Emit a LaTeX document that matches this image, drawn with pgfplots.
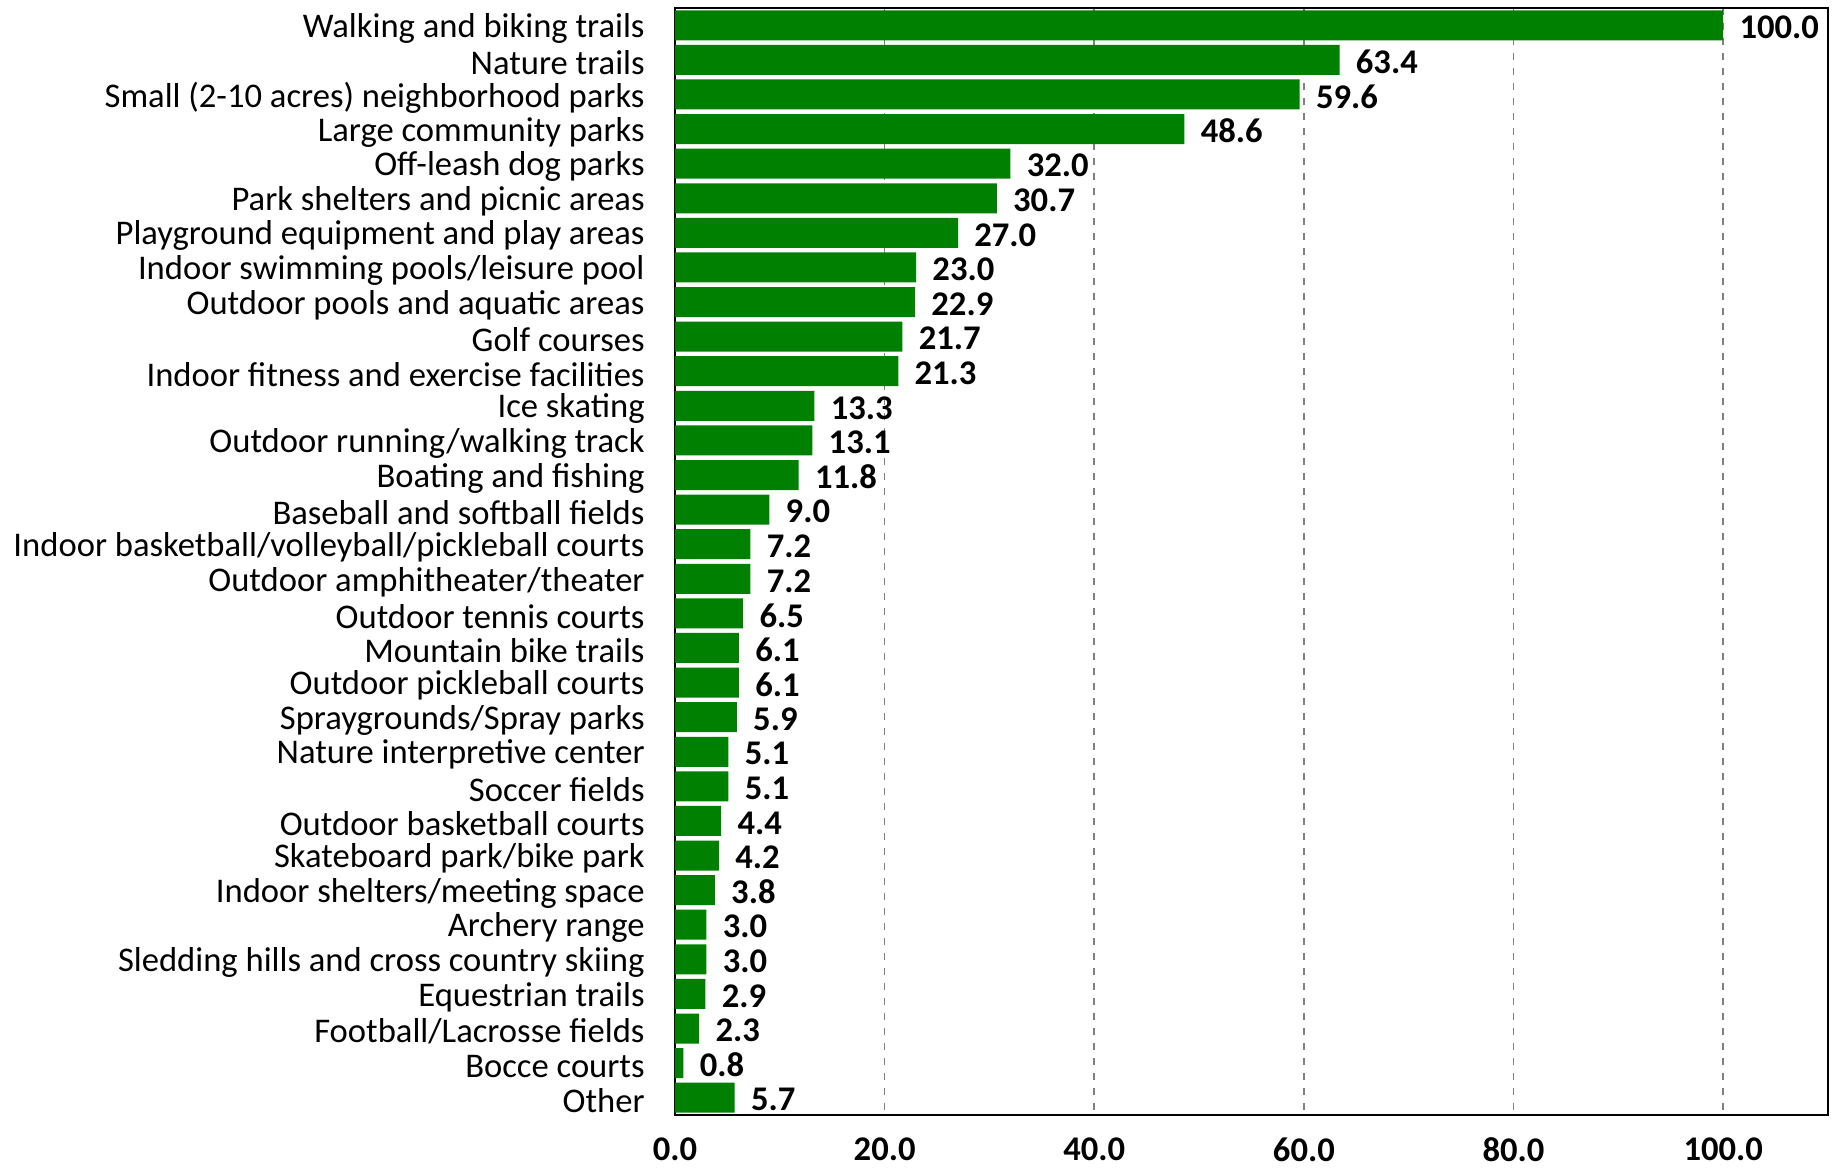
\documentclass[border=0pt]{standalone}
\usepackage{fontspec}
\setmainfont{Carlito}
\usepackage{pgfplots}
\pgfplotsset{compat=1.18}
\definecolor{bargreen}{RGB}{0,128,0}
\definecolor{gridgray}{RGB}{128,128,128}
\newcommand{\lblfont}{\fontsize{17.3}{20}\selectfont}
\begin{document}
\lblfont
\begin{tikzpicture}
\begin{axis}[
    name=ax,
    xbar,
    scale only axis,
    width=576.5pt, height=553.5pt,
    xmin=0, xmax=110,
    ymin=-0.5, ymax=31.5,
    y dir=reverse,
    bar width=15pt,
    axis line style={black, line width=1.3pt},
    xtick={0,20,40,60,80,100},
    ytick=data,
    yticklabels={Walking and biking trails, Nature trails, Small (2-10 acres) neighborhood parks, Large community parks, Off-leash dog parks, Park shelters and picnic areas, Playground equipment and play areas, Indoor swimming pools/leisure pool, Outdoor pools and aquatic areas, Golf courses, Indoor fitness and exercise facilities, Ice skating, Outdoor running/walking track, Boating and fishing, Baseball and softball fields, Indoor basketball/volleyball/pickleball courts, Outdoor amphitheater/theater, Outdoor tennis courts, Mountain bike trails, Outdoor pickleball courts, Spraygrounds/Spray parks, Nature interpretive center, Soccer fields, Outdoor basketball courts, Skateboard park/bike park, Indoor shelters/meeting space, Archery range, Sledding hills and cross country skiing, Equestrian trails, Football/Lacrosse fields, Bocce courts, Other},
    major tick length=0pt,
    tick style={draw=none},
    yticklabel style={font=\lblfont, inner sep=0pt, xshift=-15pt, yshift=-1.5pt},
    xticklabel style={font=\lblfont\bfseries, inner sep=0pt, yshift=-11pt,
        /pgf/number format/.cd, fixed, zerofill, precision=1, assume math mode=true},
    xmajorgrids=true,
    grid style={gridgray, line width=0.8pt, dash pattern=on 3.5pt off 4pt},
    nodes near coords,
    nodes near coords style={font=\lblfont\bfseries, anchor=west, inner sep=0pt, xshift=8pt, yshift=-1pt,
        /pgf/number format/.cd, fixed, zerofill, precision=1, assume math mode=true},
]
\addplot[fill=bargreen, draw=none] coordinates {
    (100.0,0) (63.4,1) (59.6,2) (48.6,3) (32.0,4) (30.7,5) (27.0,6) (23.0,7)
    (22.9,8) (21.7,9) (21.3,10) (13.3,11) (13.1,12) (11.8,13) (9.0,14) (7.2,15)
    (7.2,16) (6.5,17) (6.1,18) (6.1,19) (5.9,20) (5.1,21) (5.1,22) (4.4,23)
    (4.2,24) (3.8,25) (3.0,26) (3.0,27) (2.9,28) (2.3,29) (0.8,30) (5.7,31)
};
\end{axis}
\pgfresetboundingbox
\path ([shift={(-337.5pt,-27.5pt)}]ax.south west) rectangle ([shift={(5.5pt,4pt)}]ax.north east);
\end{tikzpicture}
\end{document}
